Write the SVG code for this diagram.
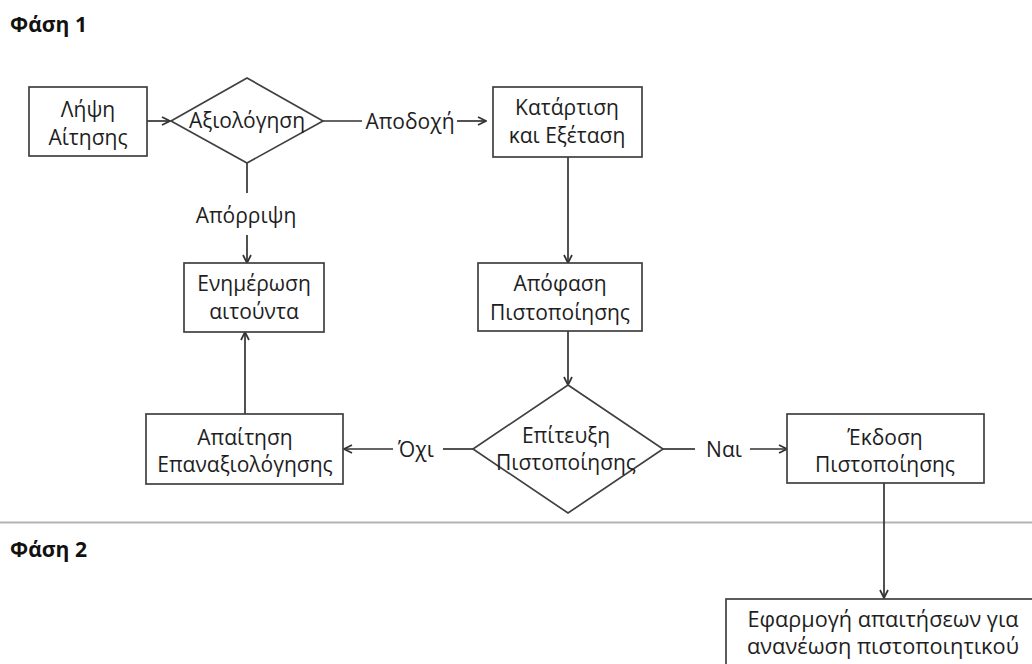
<svg xmlns="http://www.w3.org/2000/svg" width="1032" height="664" viewBox="0 0 1032 664">
<defs>
<marker id="arr" viewBox="0 0 10 10" refX="9" refY="5" markerWidth="10" markerHeight="10" markerUnits="userSpaceOnUse" orient="auto">
<path d="M1,1 L9,5 L1,9" fill="none" stroke="#333" stroke-width="1.7"/>
</marker>
<style>
.box{fill:#fff;stroke:#404040;stroke-width:1.7}
.t{font-family:"Open Sans","Noto Sans",sans-serif;font-size:21px;fill:#1e1e1e;text-anchor:middle}
.h{font-family:"Open Sans","Noto Sans",sans-serif;font-size:21px;font-weight:bold;fill:#111}
.c{fill:none;stroke:#333;stroke-width:1.7}
</style>
</defs>
<rect width="1032" height="664" fill="#fff"/>
<text class="h" x="10" y="32" textLength="77" lengthAdjust="spacingAndGlyphs">Φάση 1</text>
<line x1="0" y1="522.5" x2="1032" y2="522.5" stroke="#b4b4b4" stroke-width="2"/>
<text class="h" x="10" y="557" textLength="77" lengthAdjust="spacingAndGlyphs">Φάση 2</text>

<g id="connectors">
<line class="c" x1="147" y1="121" x2="170" y2="121" marker-end="url(#arr)"/>
<line class="c" x1="323" y1="121" x2="362" y2="121"/>
<line class="c" x1="457" y1="121" x2="486" y2="121" marker-end="url(#arr)"/>
<line class="c" x1="247" y1="163" x2="247" y2="193"/>
<line class="c" x1="247" y1="235" x2="247" y2="263" marker-end="url(#arr)"/>
<line class="c" x1="245" y1="414" x2="245" y2="332" marker-end="url(#arr)"/>
<line class="c" x1="568" y1="157" x2="568" y2="263" marker-end="url(#arr)"/>
<line class="c" x1="568" y1="331" x2="568" y2="385" marker-end="url(#arr)"/>
<line class="c" x1="473" y1="449" x2="443" y2="449"/>
<line class="c" x1="393" y1="449" x2="344" y2="449" marker-end="url(#arr)"/>
<line class="c" x1="663" y1="449" x2="695" y2="449"/>
<line class="c" x1="750" y1="449" x2="787" y2="449" marker-end="url(#arr)"/>
<line class="c" x1="884" y1="483" x2="884" y2="598" marker-end="url(#arr)"/>
<text class="t" x="410" y="129">Αποδοχή</text>
<text class="t" x="246" y="223">Απόρριψη</text>
<text class="t" x="416" y="457">Όχι</text>
<text class="t" x="724" y="457">Ναι</text>
</g>

<g id="n_lipsi">
<rect class="box" x="29" y="87" width="118" height="69"/>
<text class="t" x="88" y="117">Λήψη</text>
<text class="t" x="88" y="145">Αίτησης</text>
</g>
<g id="n_axiologisi">
<polygon class="box" points="247,78 323,121 247,163 171,121"/>
<text class="t" x="247" y="128">Αξιολόγηση</text>
</g>
<g id="n_katartisi">
<rect class="box" x="493" y="87" width="149" height="70"/>
<text class="t" x="567" y="115">Κατάρτιση</text>
<text class="t" x="567" y="143">και Εξέταση</text>
</g>
<g id="n_enimerosi">
<rect class="box" x="184" y="263" width="140" height="69"/>
<text class="t" x="254" y="291">Ενημέρωση</text>
<text class="t" x="254" y="319">αιτούντα</text>
</g>
<g id="n_apofasi">
<rect class="box" x="478" y="263" width="164" height="68"/>
<text class="t" x="560" y="291">Απόφαση</text>
<text class="t" x="560" y="320">Πιστοποίησης</text>
</g>
<g id="n_epitefxi">
<polygon class="box" points="568,385 663,449 568,513 473,449"/>
<text class="t" x="566" y="443">Επίτευξη</text>
<text class="t" x="566" y="470">Πιστοποίησης</text>
</g>
<g id="n_apaitisi">
<rect class="box" x="146" y="414" width="197" height="70"/>
<text class="t" x="245" y="445">Απαίτηση</text>
<text class="t" x="245" y="472">Επαναξιολόγησης</text>
</g>
<g id="n_ekdosi">
<rect class="box" x="787" y="414" width="197" height="69"/>
<text class="t" x="885" y="445">Έκδοση</text>
<text class="t" x="885" y="472">Πιστοποίησης</text>
</g>
<g id="n_efarmogi">
<rect class="box" x="726" y="599" width="320" height="80"/>
<text class="t" x="883" y="627" textLength="271" lengthAdjust="spacingAndGlyphs">Εφαρμογή απαιτήσεων για</text>
<text class="t" x="883" y="654" textLength="272" lengthAdjust="spacingAndGlyphs">ανανέωση πιστοποιητικού</text>
</g>
</svg>
